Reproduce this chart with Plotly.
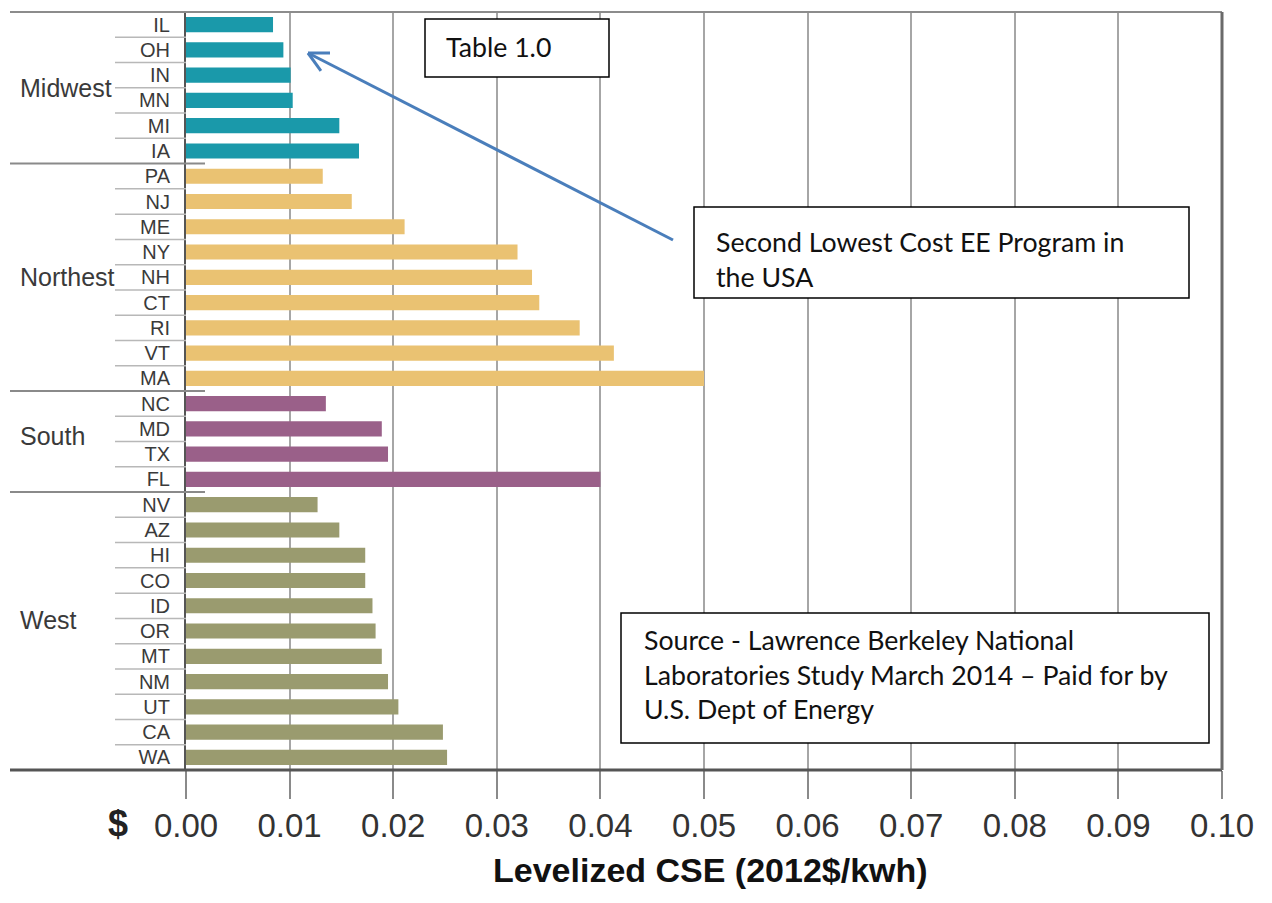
import plotly.graph_objects as go
import math

# ---------------- data ----------------
regions = ["Midwest", "Northest", "South", "West"]
midwest_states = ["IL", "OH", "IN", "MN", "MI", "IA"]
midwest_vals = [0.0084, 0.0094, 0.0101, 0.0103, 0.0148, 0.0167]
northeast_states = ["PA", "NJ", "ME", "NY", "NH", "CT", "RI", "VT", "MA"]
northeast_vals = [0.0132, 0.0160, 0.0211, 0.0320, 0.0334, 0.0341, 0.0380, 0.0413, 0.0500]
south_states = ["NC", "MD", "TX", "FL"]
south_vals = [0.0135, 0.0189, 0.0195, 0.0400]
west_states = ["NV", "AZ", "HI", "CO", "ID", "OR", "MT", "NM", "UT", "CA", "WA"]
west_vals = [0.0127, 0.0148, 0.0173, 0.0173, 0.0180, 0.0183, 0.0189, 0.0195, 0.0205, 0.0248, 0.0252]
x_ticks = [0.00, 0.01, 0.02, 0.03, 0.04, 0.05, 0.06, 0.07, 0.08, 0.09, 0.10]
x_title = "Levelized CSE (2012$/kwh)"
box_table = "Table 1.0"
box_second = "Second Lowest Cost EE Program in<br>the USA"
box_source = ("Source - Lawrence Berkeley National<br>"
              "Laboratories Study March 2014 \u2013 Paid for by<br>"
              "U.S. Dept of Energy")

groups = [
    (midwest_states, midwest_vals, "#1a99aa"),
    (northeast_states, northeast_vals, "#eac272"),
    (south_states, south_vals, "#9a6089"),
    (west_states, west_vals, "#9a9b6f"),
]
region_label_shift = [0.0, 0.0, -0.2, -0.45]   # label placement tweak (category units)
all_states = [s for g in groups for s in g[0]]

# ---------------- layout geometry (page pixels) ----------------
OFF = 8                      # page body margin
W, H = 1272, 903
PL, PR, PT, PB = 186, 1222, 12, 770   # plot area in page pixels
L = PL - OFF
T = PT - OFF
R = W - (PR - OFF)
B = H - (PB - OFF)
PW = PR - PL
PH = PB - PT


def pxx(p):
    return (p - PL) / PW


def pxy(p):
    return (PB - p) / PH


fig = go.Figure()
for states, vals, color in groups:
    fig.add_trace(go.Bar(
        x=vals, y=states, orientation="h", width=0.6,
        marker=dict(color=color, line=dict(width=0)),
        showlegend=False, hoverinfo="x+y",
    ))

shapes = []
annotations = []

# separators between state labels
idx = 0
for gi, (states, vals, color) in enumerate(groups):
    for si in range(len(states)):
        pos = idx + 0.5
        last_in_group = si == len(states) - 1
        if pos < len(all_states) - 0.5:
            if last_in_group:
                shapes.append(dict(type="line", xref="paper", yref="y",
                                   x0=pxx(10), x1=pxx(205), y0=pos, y1=pos,
                                   line=dict(color="#8a8a8a", width=2)))
            else:
                shapes.append(dict(type="line", xref="paper", yref="y",
                                   x0=pxx(115), x1=pxx(186), y0=pos, y1=pos,
                                   line=dict(color="#b8b8b8", width=1.5)))
        idx += 1
    start = idx - len(states)
    center = start + (len(states) - 1) / 2 + region_label_shift[gi]
    annotations.append(dict(
        text=regions[gi], xref="paper", yref="y", x=pxx(18), y=center,
        xanchor="left", yanchor="middle", showarrow=False,
        font=dict(family="Liberation Sans, Arial, sans-serif", size=25, color="#3a3a3a")))

# top and bottom long lines, right border
shapes.append(dict(type="line", xref="paper", yref="paper", x0=pxx(10), x1=1, y0=1, y1=1,
                   line=dict(color="#8c8c8c", width=2)))
shapes.append(dict(type="line", xref="paper", yref="paper", x0=pxx(10), x1=1, y0=0, y1=0,
                   line=dict(color="#555555", width=3)))
shapes.append(dict(type="line", xref="paper", yref="paper", x0=1, x1=1, y0=0, y1=1,
                   line=dict(color="#6a6a6a", width=3)))


def box(x0, y0, x1, y1):
    shapes.append(dict(type="rect", xref="paper", yref="paper",
                       x0=pxx(x0), x1=pxx(x1), y0=pxy(y1), y1=pxy(y0),
                       line=dict(color="black", width=1.5), fillcolor="white", layer="above"))


box(425, 19, 609, 77)
box(694, 207, 1189, 298)
box(621, 613, 1209, 743)

txt_font = dict(family="Lato, Open Sans, sans-serif", size=26.7, color="#111111")
annotations.append(dict(text=box_table, xref="paper", yref="paper", x=pxx(444), y=pxy(47),
                        xanchor="left", yanchor="middle", showarrow=False, align="left", font=txt_font))
annotations.append(dict(text=box_second, xref="paper", yref="paper", x=pxx(714), y=pxy(259),
                        xanchor="left", yanchor="middle", showarrow=False, align="left", font=txt_font))
annotations.append(dict(text=box_source, xref="paper", yref="paper", x=pxx(642), y=pxy(674),
                        xanchor="left", yanchor="middle", showarrow=False, align="left", font=txt_font))

# arrow (open head)
tip = (308, 53)
tail = (673, 240)
arrow_col = "#4a7ebb"
shapes.append(dict(type="line", xref="paper", yref="paper",
                   x0=pxx(tail[0]), y0=pxy(tail[1]), x1=pxx(tip[0]), y1=pxy(tip[1]),
                   line=dict(color=arrow_col, width=3)))
ang = math.atan2(tail[1] - tip[1], tail[0] - tip[0])
for d in (-0.47, 0.47):
    ex = tip[0] + 22 * math.cos(ang + d)
    ey = tip[1] + 22 * math.sin(ang + d)
    shapes.append(dict(type="line", xref="paper", yref="paper",
                       x0=pxx(tip[0]), y0=pxy(tip[1]), x1=pxx(ex), y1=pxy(ey),
                       line=dict(color=arrow_col, width=3)))

# $ sign and axis title
annotations.append(dict(text="<b>$</b>", xref="paper", yref="paper", x=pxx(118), y=pxy(823),
                        xanchor="center", yanchor="middle", showarrow=False,
                        font=dict(family="Liberation Sans, Arial, sans-serif", size=36, color="#222222")))
annotations.append(dict(text="<b>" + x_title + "</b>", xref="paper", yref="paper", x=pxx(710), y=pxy(870),
                        xanchor="center", yanchor="middle", showarrow=False,
                        font=dict(family="Liberation Sans, Arial, sans-serif", size=34, color="#111111")))

fig.update_layout(
    width=W, height=H,
    margin=dict(l=L, r=R, t=T, b=B, pad=0),
    paper_bgcolor="white", plot_bgcolor="white",
    barmode="overlay",
    shapes=shapes, annotations=annotations,
    showlegend=False,
)
fig.update_xaxes(
    range=[0, 0.1], tickvals=x_ticks, ticktext=["%.2f" % v for v in x_ticks],
    showgrid=True, gridcolor="#a6a6a6", gridwidth=2,
    ticks="outside", ticklen=28, tickcolor="#8a8a8a", tickwidth=1.5,
    ticklabelstandoff=-2,
    tickfont=dict(family="Liberation Sans, Arial, sans-serif", size=33, color="#333333"),
    zeroline=False, showline=False,
)
fig.update_yaxes(
    type="category", categoryorder="array", categoryarray=all_states,
    range=[len(all_states) - 0.5, -0.5],
    showgrid=False, zeroline=False,
    showline=True, linecolor="#555555", linewidth=2,
    ticks="", ticklabelstandoff=10,
    tickfont=dict(family="Liberation Sans, Arial, sans-serif", size=20, color="#3a3a3a"),
)

fig.write_html("out.html")
